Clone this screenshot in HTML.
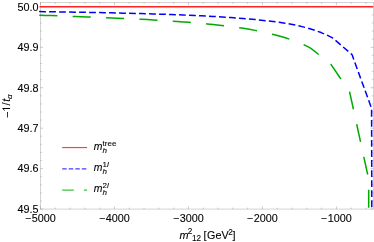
<!DOCTYPE html>
<html><head><meta charset="utf-8"><style>
html,body{margin:0;padding:0;background:#fff;}
svg{display:block;will-change:transform;font-family:"Liberation Sans",sans-serif;font-size:10.8px;fill:#000;}
text{stroke:#000;stroke-width:0.1px;}
.i{font-style:italic;}
</style></head><body>
<svg width="374" height="242" viewBox="0 0 374 242">
<rect width="374" height="242" fill="#fff"/>
<rect x="40.45" y="2.45" width="332.85" height="206.60000000000002" fill="none" stroke="#a6a6a6" stroke-width="0.5"/>
<path d="M40.50,209.05 v-2.60 M40.50,2.45 v2.60 M55.30,209.05 v-1.40 M55.30,2.45 v1.40 M70.09,209.05 v-1.40 M70.09,2.45 v1.40 M84.88,209.05 v-1.40 M84.88,2.45 v1.40 M99.68,209.05 v-1.40 M99.68,2.45 v1.40 M114.47,209.05 v-2.60 M114.47,2.45 v2.60 M129.27,209.05 v-1.40 M129.27,2.45 v1.40 M144.06,209.05 v-1.40 M144.06,2.45 v1.40 M158.86,209.05 v-1.40 M158.86,2.45 v1.40 M173.66,209.05 v-1.40 M173.66,2.45 v1.40 M188.45,209.05 v-2.60 M188.45,2.45 v2.60 M203.25,209.05 v-1.40 M203.25,2.45 v1.40 M218.04,209.05 v-1.40 M218.04,2.45 v1.40 M232.84,209.05 v-1.40 M232.84,2.45 v1.40 M247.63,209.05 v-1.40 M247.63,2.45 v1.40 M262.43,209.05 v-2.60 M262.43,2.45 v2.60 M277.22,209.05 v-1.40 M277.22,2.45 v1.40 M292.01,209.05 v-1.40 M292.01,2.45 v1.40 M306.81,209.05 v-1.40 M306.81,2.45 v1.40 M321.61,209.05 v-1.40 M321.61,2.45 v1.40 M336.40,209.05 v-2.60 M336.40,2.45 v2.60 M351.19,209.05 v-1.40 M351.19,2.45 v1.40 M365.99,209.05 v-1.40 M365.99,2.45 v1.40 M40.45,209.05 h2.60 M373.30,209.05 h-2.60 M40.45,200.96 h1.40 M373.30,200.96 h-1.40 M40.45,192.87 h1.40 M373.30,192.87 h-1.40 M40.45,184.79 h1.40 M373.30,184.79 h-1.40 M40.45,176.70 h1.40 M373.30,176.70 h-1.40 M40.45,168.61 h2.60 M373.30,168.61 h-2.60 M40.45,160.52 h1.40 M373.30,160.52 h-1.40 M40.45,152.43 h1.40 M373.30,152.43 h-1.40 M40.45,144.35 h1.40 M373.30,144.35 h-1.40 M40.45,136.26 h1.40 M373.30,136.26 h-1.40 M40.45,128.17 h2.60 M373.30,128.17 h-2.60 M40.45,120.08 h1.40 M373.30,120.08 h-1.40 M40.45,111.99 h1.40 M373.30,111.99 h-1.40 M40.45,103.91 h1.40 M373.30,103.91 h-1.40 M40.45,95.82 h1.40 M373.30,95.82 h-1.40 M40.45,87.73 h2.60 M373.30,87.73 h-2.60 M40.45,79.64 h1.40 M373.30,79.64 h-1.40 M40.45,71.55 h1.40 M373.30,71.55 h-1.40 M40.45,63.47 h1.40 M373.30,63.47 h-1.40 M40.45,55.38 h1.40 M373.30,55.38 h-1.40 M40.45,47.29 h2.60 M373.30,47.29 h-2.60 M40.45,39.20 h1.40 M373.30,39.20 h-1.40 M40.45,31.11 h1.40 M373.30,31.11 h-1.40 M40.45,23.03 h1.40 M373.30,23.03 h-1.40 M40.45,14.94 h1.40 M373.30,14.94 h-1.40 M40.45,6.85 h2.60 M373.30,6.85 h-2.60" stroke="#8a8a8a" stroke-width="0.45" fill="none"/>
<path d="M39.5,6.7 H373.3" stroke="#ff2424" stroke-width="1.5" fill="none"/>
<path d="M39.10,11.58 L45.10,11.67 L51.10,11.75 L57.10,11.85 L63.10,11.94 L69.10,12.04 L75.10,12.14 L81.10,12.25 L87.10,12.36 L93.10,12.47 L99.10,12.59 L105.10,12.72 L111.10,12.85 L117.10,12.99 L123.10,13.13 L129.10,13.28 L135.10,13.43 L141.10,13.60 L147.10,13.77 L153.10,13.95 L159.10,14.14 L165.10,14.34 L171.10,14.55 L177.10,14.78 L183.10,15.01 L189.10,15.26 L195.10,15.53 L201.10,15.81 L207.10,16.12 L213.10,16.44 L219.10,16.79 L225.10,17.16 L231.10,17.56 L237.10,17.99 L243.10,18.46 L249.10,18.97 L255.10,19.52 L261.10,20.13 L267.10,20.80 L273.10,21.53 L279.10,22.35 L285.10,23.26 L291.10,24.29 L297.10,25.46 L298.43,25.77" stroke="#0000ff" stroke-width="1.5" fill="none" stroke-dasharray="6.8 3.2" stroke-linejoin="round"/>
<path d="M298.43,25.77 L303.10,26.86 L309.10,28.49 L315.10,30.37 L321.10,32.57 L327.10,35.12 L332.50,37.85 L352.00,54.60 L371.60,108.40 L371.80,208.80" stroke="#0000ff" stroke-width="1.5" fill="none" stroke-dasharray="6.83 3.225" stroke-linejoin="round"/>
<path d="M39.30,15.16 L45.30,15.39 L51.30,15.62 L57.30,15.85 L63.30,16.10 L69.30,16.34 L75.30,16.60 L81.30,16.79 L87.30,17.00 L93.30,17.21 L99.30,17.43 L105.30,17.66 L111.30,17.90 L117.30,18.15 L123.30,18.41 L129.30,18.68 L135.30,18.97 L141.30,19.27 L147.30,19.59 L153.30,19.92 L159.30,20.27 L165.30,20.64 L171.30,21.03 L177.30,21.44 L183.30,21.88 L189.30,22.34 L195.30,22.84 L201.30,23.36 L207.30,23.92 L213.30,24.52 L219.30,25.16 L225.30,25.86 L231.30,26.60 L237.30,27.41 L243.30,28.28 L249.30,29.23 L255.30,30.38 L261.30,31.66 L267.30,33.05 L273.30,34.54 L279.30,36.08 L285.30,37.81 L291.30,39.75 L297.30,41.96 L303.30,44.50 L309.30,47.43 L310.90,48.30 L330.80,64.10 L349.60,91.80 L368.70,179.20 L368.70,208.80" stroke="#00aa00" stroke-width="1.5" fill="none" stroke-dasharray="18.1 15.3" stroke-dashoffset="0" stroke-linejoin="round"/>
<g><text x="24.94" y="221.6">−</text><text x="31.74" y="221.6">5000</text><text x="98.91" y="221.6">−</text><text x="105.72" y="221.6">4000</text><text x="172.89" y="221.6">−</text><text x="179.69" y="221.6">3000</text><text x="246.86" y="221.6">−</text><text x="253.67" y="221.6">2000</text><text x="320.84" y="221.6">−</text><text x="327.64" y="221.6">1000</text></g>
<g><text x="38.4" y="212.90" text-anchor="end">49.5</text><text x="38.4" y="172.46" text-anchor="end">49.6</text><text x="38.4" y="132.02" text-anchor="end">49.7</text><text x="38.4" y="91.58" text-anchor="end">49.8</text><text x="38.4" y="51.14" text-anchor="end">49.9</text><text x="38.4" y="10.70" text-anchor="end">50.0</text></g>
<text x="179.6" y="238.6" class="i">m</text><text x="187.7" y="234.1" font-size="8.2">2</text><text x="192.0" y="240.7" font-size="8.2">12</text><text x="203.4" y="238.6">[</text><text x="207.0" y="238.6">GeV</text><text x="228.3" y="234.6" font-size="8.2">2</text><text x="232.6" y="238.6">]</text>
<text transform="translate(11.1,118.0) rotate(-90)">−</text><path d="M10,108.5 H2.6" stroke="#000" stroke-width="1" fill="none"/><path d="M2.9,108.6 L4.6,110.7" stroke="#000" stroke-width="0.8" fill="none"/><text transform="translate(10,105.5) rotate(-90)">/</text><text transform="translate(10,101.7) rotate(-90)" class="i">t</text><text transform="translate(12.2,99.1) rotate(-90)" class="i" font-size="8">α</text>
<!-- legend -->
<path d="M62.2,147.55 H87.1" stroke="#ff4040" stroke-width="1.2" fill="none"/>
<path d="M62.2,168.9 H87.1" stroke="#4040ff" stroke-width="1.2" fill="none" stroke-dasharray="4.5 2.05"/>
<path d="M62.2,190.1 H87.1" stroke="#40bf40" stroke-width="1.2" fill="none" stroke-dasharray="11.6 10.1"/>
<text x="93.7" y="149.60" font-size="10.4" class="i">m</text><text x="102.6" y="145.70" font-size="8">tree</text><text x="102.4" y="153.00" font-size="8" class="i">h</text><text x="93.7" y="170.70" font-size="10.4" class="i">m</text><text x="102.6" y="166.80" font-size="8">1<tspan class="i">l</tspan></text><text x="102.4" y="174.10" font-size="8" class="i">h</text><text x="93.7" y="191.80" font-size="10.4" class="i">m</text><text x="102.6" y="187.90" font-size="8">2<tspan class="i">l</tspan></text><text x="102.4" y="195.20" font-size="8" class="i">h</text>
</svg>
</body></html>
